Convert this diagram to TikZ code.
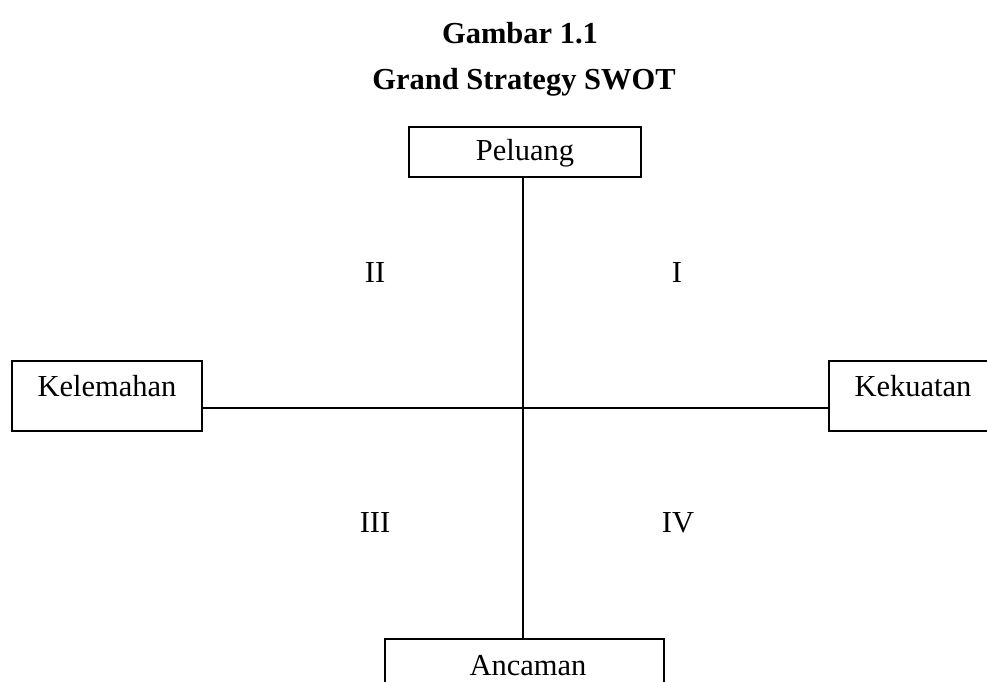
\documentclass[tikz,border=0pt]{standalone}
\usepackage{fontspec}
\setmainfont{Liberation Serif}
\begin{document}
\begin{tikzpicture}[x=1pt,y=-1pt,
  box/.style={draw,line width=1.3pt,rectangle,inner sep=0pt},
  lbl/.style={font=\fontsize{30.5}{36}\selectfont,inner sep=0pt},
  ttl/.style={font=\fontsize{30.5}{36}\selectfont\bfseries,inner sep=0pt,anchor=base},
  conn/.style={line width=1.3pt}]
\useasboundingbox (0,0) rectangle (987,682);
\clip (0,0) rectangle (987,682);
\node[ttl] (t1) at (520,44) {Gambar 1.1};
\node[ttl] (t2) at (524,90) {Grand Strategy SWOT};
% boxes
\node[box,minimum width=232pt,minimum height=50pt] (pel) at (525,152) {};
\node[lbl] (pelt) at (525,153) {Peluang};
\node[box,minimum width=190pt,minimum height=70pt] (kel) at (107,396) {};
\node[lbl] (kelt) at (107,386) {Kelemahan};
\node[box,minimum width=170pt,minimum height=70pt] (kek) at (914,396) {};
\node[lbl] (kekt) at (913,386) {Kekuatan};
\node[box,minimum width=279pt,minimum height=70pt] (anc) at (524.5,674) {};
\node[lbl] (anct) at (528,666) {Ancaman};
\coordinate (c) at (523,408);
\draw[conn] (pel.south -| c) -- (anc.north -| c);
\draw[conn] (kel.east |- c) -- (kek.west |- c);
% quadrant labels
\node[lbl] (q2) at (375,273) {II};
\node[lbl] (q1) at (677,273) {I};
\node[lbl] (q3) at (375,523) {III};
\node[lbl] (q4) at (678,523) {IV};
\end{tikzpicture}
\end{document}
